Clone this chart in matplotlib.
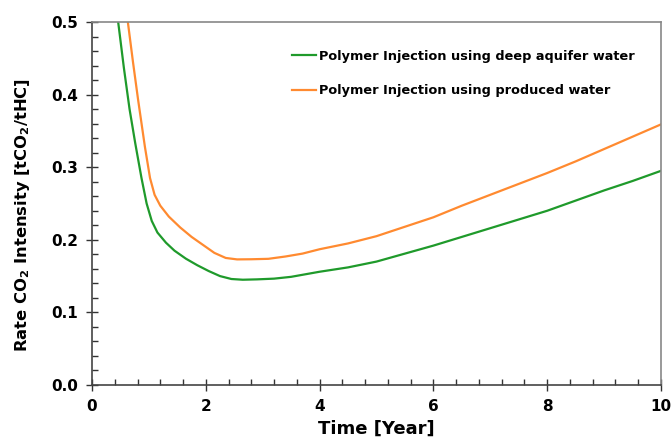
import numpy as np
import matplotlib
matplotlib.use("Agg")
import matplotlib.pyplot as plt
from matplotlib.ticker import MultipleLocator

# -------------------------------------------------------
# DATOS
# -------------------------------------------------------
t_deep = [0.40, 0.46, 0.56, 0.66, 0.76, 0.87, 0.96, 1.05, 1.15, 1.30, 1.45,
          1.65, 1.85, 2.05, 2.25, 2.45, 2.65, 2.90, 3.20, 3.50, 4.00, 4.50,
          5.00, 5.50, 6.00, 6.50, 7.00, 7.50, 8.00, 8.50, 9.00, 9.50, 10.0]
co2_deep = [0.56, 0.50, 0.437, 0.380, 0.333, 0.285, 0.250, 0.226, 0.210, 0.196,
            0.185, 0.174, 0.165, 0.157, 0.150, 0.146, 0.145, 0.1455, 0.1465,
            0.149, 0.156, 0.162, 0.170, 0.181, 0.192, 0.204, 0.216, 0.228,
            0.240, 0.254, 0.268, 0.281, 0.295]

t_prod = [0.58, 0.63, 0.72, 0.81, 0.93, 1.02, 1.10, 1.20, 1.35, 1.55, 1.75,
          1.95, 2.15, 2.35, 2.55, 2.80, 3.10, 3.40, 3.70, 4.00, 4.50, 5.00,
          5.50, 6.00, 6.50, 7.00, 7.50, 8.00, 8.50, 9.00, 9.50, 10.0]
co2_prod = [0.54, 0.50, 0.445, 0.393, 0.328, 0.285, 0.262, 0.247, 0.232, 0.217,
            0.204, 0.193, 0.182, 0.175, 0.173, 0.1732, 0.1738, 0.177, 0.181,
            0.187, 0.195, 0.205, 0.218, 0.231, 0.247, 0.262, 0.277, 0.292,
            0.308, 0.325, 0.342, 0.359]

label_deep = "Polymer Injection using deep aquifer water"
label_prod = "Polymer Injection using produced water"

GREEN  = "#1f9a2b"
ORANGE = "#ff8a30"

# -------------------------------------------------------
# GRÁFICA
# -------------------------------------------------------
plt.rcParams['font.family'] = ['DejaVu Sans']

fig = plt.figure(figsize=(6.71, 4.46), dpi=100)
ax = fig.add_axes([92/671, 1 - 385/446, (661-92)/671, (385-22)/446])

ax.plot(t_deep, co2_deep, color=GREEN, lw=1.6, label=label_deep)
ax.plot(t_prod, co2_prod, color=ORANGE, lw=1.6, label=label_prod)

ax.set_xlim(0, 10)
ax.set_ylim(0, 0.5)
ax.xaxis.set_major_locator(MultipleLocator(2))
ax.xaxis.set_minor_locator(MultipleLocator(0.4))
ax.yaxis.set_major_locator(MultipleLocator(0.1))
ax.yaxis.set_minor_locator(MultipleLocator(0.02))
ax.yaxis.set_major_formatter(plt.FormatStrFormatter('%.1f'))

ax.tick_params(which='major', direction='inout', length=8, width=1,
               color='#333333', labelsize=11, pad=6)
ax.tick_params(which='minor', direction='in', length=4, width=1, color='#333333')
for lab in ax.get_xticklabels() + ax.get_yticklabels():
    lab.set_fontweight('bold')

for s in ['left', 'bottom']:
    ax.spines[s].set_color('#444444')
    ax.spines[s].set_linewidth(1.2)
for s in ['top', 'right']:
    ax.spines[s].set_color('#888888')
    ax.spines[s].set_linewidth(1.2)

ax.set_xlabel('Time [Year]', fontsize=13, fontweight='bold', labelpad=4)
ax.set_ylabel(r'Rate CO$_\mathbf{2}$ Intensity [tCO$_\mathbf{2}$/tHC]',
              fontsize=11.8, fontweight='bold')
ax.yaxis.set_label_coords(-0.105, 0.467)

leg = ax.legend(loc='upper right', bbox_to_anchor=(0.975, 0.955), frameon=False,
                handlelength=1.9, handletextpad=0.25, labelspacing=1.65,
                prop={'weight': 'bold', 'size': 9.25})

plt.savefig("out.png", dpi=100)
